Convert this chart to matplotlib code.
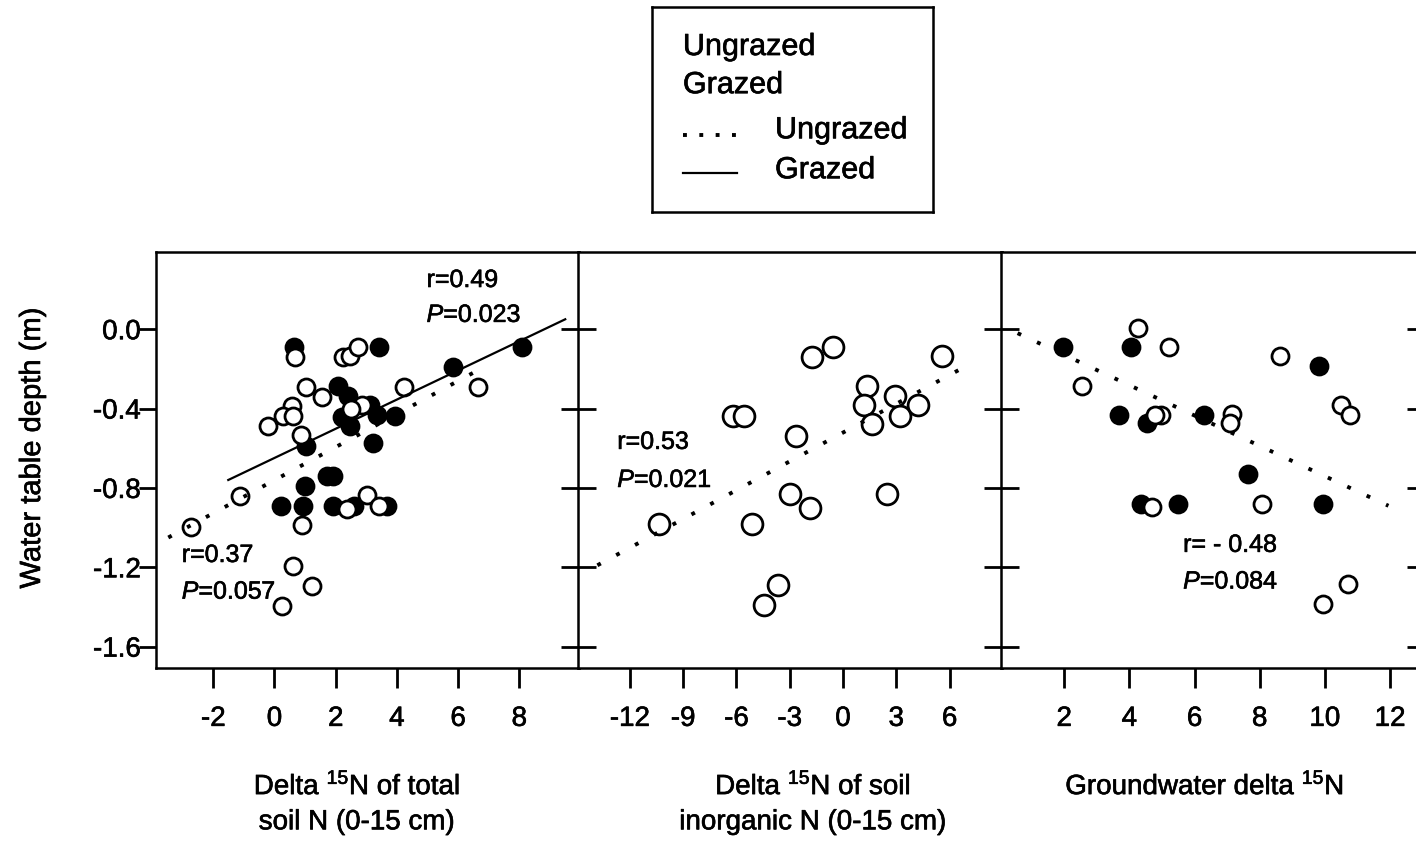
"""
Water table depth against delta 15N in three pools:
total soil N, soil inorganic N and groundwater, split into
ungrazed (open) and grazed (filled) sites, with fitted lines.
"""

import matplotlib
matplotlib.use("Agg")
import matplotlib.pyplot as plt
import matplotlib.patheffects as pe
from matplotlib.lines import Line2D


# ─── Data ──────────────────────────────────────────────────────────────────────

# Panel 1: delta 15N of total soil N (0-15 cm)
TOTAL_UNGRAZED_X = [0.67, 2.23, 2.47, 2.74, 1.03, 1.54, 4.23, 6.66, 0.56, 0.29,
                    0.59, -0.20, 0.86, 2.85, 2.50, -1.13, -2.74, 0.89, 3.03,
                    2.36, 3.42, 0.59, 1.24, 0.24]
TOTAL_UNGRAZED_Y = [-0.14, -0.14, -0.135, -0.09, -0.29, -0.34, -0.29, -0.29,
                    -0.385, -0.435, -0.435, -0.49, -0.535, -0.38, -0.40, -0.84,
                    -0.995, -0.985, -0.835, -0.905, -0.89, -1.195, -1.295, -1.395]
TOTAL_GRAZED_X = [0.64, 3.42, 8.08, 5.82, 2.08, 2.41, 3.12, 2.20, 2.47, 3.34,
                  3.94, 1.03, 3.21, 1.71, 1.92, 1.00, 0.20, 0.92, 1.90, 2.60, 3.67]
TOTAL_GRAZED_Y = [-0.09, -0.09, -0.09, -0.19, -0.285, -0.335, -0.38, -0.445,
                  -0.49, -0.43, -0.435, -0.59, -0.575, -0.74, -0.74, -0.79,
                  -0.89, -0.89, -0.89, -0.89, -0.89]
TOTAL_FIT_UNGRAZED_X = [-3.47, 6.61]
TOTAL_FIT_UNGRAZED_Y = [-1.05, -0.21]
TOTAL_FIT_GRAZED_X = [-1.51, 9.50]
TOTAL_FIT_GRAZED_Y = [-0.76, 0.05]

# Panel 2: delta 15N of soil inorganic N (0-15 cm), ungrazed only
INORG_UNGRAZED_X = [-1.74, -0.58, 5.57, 1.35, 1.16, 1.63, 2.94, 3.23, 4.22,
                    -6.21, -5.59, -2.64, -3.00, -1.88, 2.48, -5.12, -10.37,
                    -3.68, -4.46]
INORG_UNGRAZED_Y = [-0.14, -0.09, -0.135, -0.285, -0.38, -0.48, -0.335, -0.435,
                    -0.38, -0.435, -0.435, -0.54, -0.83, -0.90, -0.83, -0.98,
                    -0.98, -1.29, -1.39]
INORG_FIT_X = [-13.83, 7.26]
INORG_FIT_Y = [-1.19, -0.17]

# Panel 3: groundwater delta 15N
GW_UNGRAZED_X = [4.25, 5.21, 8.61, 2.56, 4.96, 4.78, 7.15, 7.08, 10.49, 10.78,
                 4.71, 8.07, 9.94, 10.72]
GW_UNGRAZED_Y = [0.005, -0.09, -0.135, -0.285, -0.43, -0.43, -0.425, -0.475,
                 -0.38, -0.43, -0.895, -0.88, -1.385, -1.285]
GW_GRAZED_X = [1.95, 4.06, 9.81, 3.68, 4.55, 6.29, 7.63, 4.37, 5.49, 9.94]
GW_GRAZED_Y = [-0.09, -0.09, -0.185, -0.43, -0.475, -0.43, -0.73, -0.88,
               -0.88, -0.88]
GW_FIT_X = [0.57, 11.95]
GW_FIT_Y = [-0.02, -0.89]

Y_TICKS = [0.0, -0.4, -0.8, -1.2, -1.6]
TOTAL_TICKS = [-2, 0, 2, 4, 6, 8]
INORG_TICKS = [-12, -9, -6, -3, 0, 3, 6]
GW_TICKS = [2, 4, 6, 8, 10, 12]

X_LABELS = [
    "Delta $^{\\mathrm{15}}$N of total\nsoil N (0-15 cm)",
    "Delta $^{\\mathrm{15}}$N of soil\ninorganic N (0-15 cm)",
    "Groundwater delta $^{\\mathrm{15}}$N",
]


# ─── Style ─────────────────────────────────────────────────────────────────────

plt.rcParams["font.family"] = ["Liberation Sans", "DejaVu Sans"]
plt.rcParams["mathtext.fontset"] = "custom"
plt.rcParams["mathtext.rm"] = "Liberation Sans"
plt.rcParams["mathtext.it"] = "Liberation Sans:italic"
plt.rcParams["axes.unicode_minus"] = False

DOTTED = (0, (1, 4.5))
DOT_W = 2.8
SPINE_W = 1.8
TICK_FS = 20
STAT_FS = 18

# a thin outline thickens the glyphs a little, like a printed page
HEAVY = [pe.withStroke(linewidth=0.45, foreground="black")]


def draw_points(ax, x, y, filled, size):
    ax.scatter(x, y, s=size, marker="o",
               facecolor="black" if filled else "white",
               edgecolor="black", linewidth=2.0,
               zorder=2 if filled else 2.5)


def stat_text(ax, x, y, s):
    ax.text(x, y, s, fontsize=STAT_FS, va="center", ha="left", path_effects=HEAVY)


def style_axis(ax, xlim, xticks, left_out=False):
    ax.set_xlim(*xlim)
    ax.set_ylim(-1.706, 0.391)
    ax.set_xticks(xticks)
    ax.set_yticks(Y_TICKS)
    for side in ax.spines.values():
        side.set_linewidth(SPINE_W)

    ax.tick_params(axis="x", direction="out", length=14.5, width=2.0,
                   pad=13, labelsize=TICK_FS)
    ax.tick_params(axis="y", direction="in", length=13, width=2.0,
                   left=True, right=True, labelleft=False)
    if left_out:
        ax.tick_params(axis="y", which="major", left=True, labelleft=True,
                       labelsize=TICK_FS, pad=11)
        # left ticks point outwards, right ones stay inside the frame
        for tick in ax.yaxis.get_major_ticks():
            tick.tick1line.set_marker(matplotlib.lines.TICKLEFT)
            tick.tick1line.set_markersize(12)
    ax.yaxis.set_major_formatter(matplotlib.ticker.FormatStrFormatter("%.1f"))
    for lab in ax.get_xticklabels() + ax.get_yticklabels():
        lab.set_path_effects(HEAVY)


# ─── Figure ────────────────────────────────────────────────────────────────────

fig = plt.figure(figsize=(14.16, 8.41), dpi=100)

ax1 = fig.add_axes([0.1102, 0.2061, 0.2987, 0.4947])
ax2 = fig.add_axes([0.4082, 0.2061, 0.2994, 0.4947])
ax3 = fig.add_axes([0.7069, 0.2061, 0.2994, 0.4947])

# Panel 1
style_axis(ax1, (-3.87, 9.95), TOTAL_TICKS, left_out=True)
draw_points(ax1, TOTAL_GRAZED_X, TOTAL_GRAZED_Y, True, 150)
draw_points(ax1, TOTAL_UNGRAZED_X, TOTAL_UNGRAZED_Y, False, 150)
ax1.plot(TOTAL_FIT_UNGRAZED_X, TOTAL_FIT_UNGRAZED_Y, color="black",
         lw=DOT_W, linestyle=DOTTED, zorder=3)
ax1.plot(TOTAL_FIT_GRAZED_X, TOTAL_FIT_GRAZED_Y, color="black",
         lw=1.6, zorder=3)
stat_text(ax1, 4.97, 0.248, "r=0.49")
stat_text(ax1, 4.97, 0.072, "$\\it{P}$=0.023")
stat_text(ax1, -3.03, -1.138, "r=0.37")
stat_text(ax1, -3.03, -1.323, "$\\it{P}$=0.057")

# Panel 2
style_axis(ax2, (-14.92, 8.95), INORG_TICKS)
draw_points(ax2, INORG_UNGRAZED_X, INORG_UNGRAZED_Y, False, 225)
ax2.plot(INORG_FIT_X, INORG_FIT_Y, color="black", lw=DOT_W,
         linestyle=DOTTED, zorder=3)
stat_text(ax2, -12.71, -0.568, "r=0.53")
stat_text(ax2, -12.71, -0.760, "$\\it{P}$=0.021")

# Panel 3
style_axis(ax3, (0.06, 13.07), GW_TICKS)
draw_points(ax3, GW_GRAZED_X, GW_GRAZED_Y, True, 150)
draw_points(ax3, GW_UNGRAZED_X, GW_UNGRAZED_Y, False, 150)
ax3.plot(GW_FIT_X, GW_FIT_Y, color="black", lw=DOT_W,
         linestyle=DOTTED, zorder=3)
stat_text(ax3, 5.65, -1.087, "r= - 0.48")
stat_text(ax3, 5.65, -1.272, "$\\it{P}$=0.084")

# x-axis titles
for ax, label, xpos in zip([ax1, ax2, ax3], X_LABELS, [0.475, 0.554, 0.48]):
    ax.set_xlabel(label, fontsize=20, linespacing=1.45)
    ax.xaxis.set_label_coords(xpos, -0.252)
    ax.xaxis.label.set_va("top")
    ax.xaxis.label.set_path_effects(HEAVY)

fig.text(32 / 1416, 0.4673, "Water table depth (m)", rotation=90,
         fontsize=21, ha="center", va="center", path_effects=HEAVY)

# ─── Legend box ────────────────────────────────────────────────────────────────

leg = fig.add_axes([0.4602, 0.7483, 0.1989, 0.2438])
leg.set_xlim(0, 1)
leg.set_ylim(0, 1)
leg.set_xticks([])
leg.set_yticks([])
for side in leg.spines.values():
    side.set_linewidth(SPINE_W)

LEG_FS = 22
leg.text(0.111, 0.764, "Ungrazed", fontsize=LEG_FS, va="baseline", path_effects=HEAVY)
leg.text(0.111, 0.578, "Grazed", fontsize=LEG_FS, va="baseline", path_effects=HEAVY)
leg.add_line(Line2D([0.111, 0.303], [0.374, 0.374], color="black",
                    lw=DOT_W, linestyle=(0, (1, 3.2))))
leg.text(0.438, 0.358, "Ungrazed", fontsize=LEG_FS, va="baseline", path_effects=HEAVY)
leg.add_line(Line2D([0.111, 0.303], [0.189, 0.189], color="black", lw=1.6))
leg.text(0.438, 0.163, "Grazed", fontsize=LEG_FS, va="baseline", path_effects=HEAVY)

fig.savefig("out.png", dpi=100)
